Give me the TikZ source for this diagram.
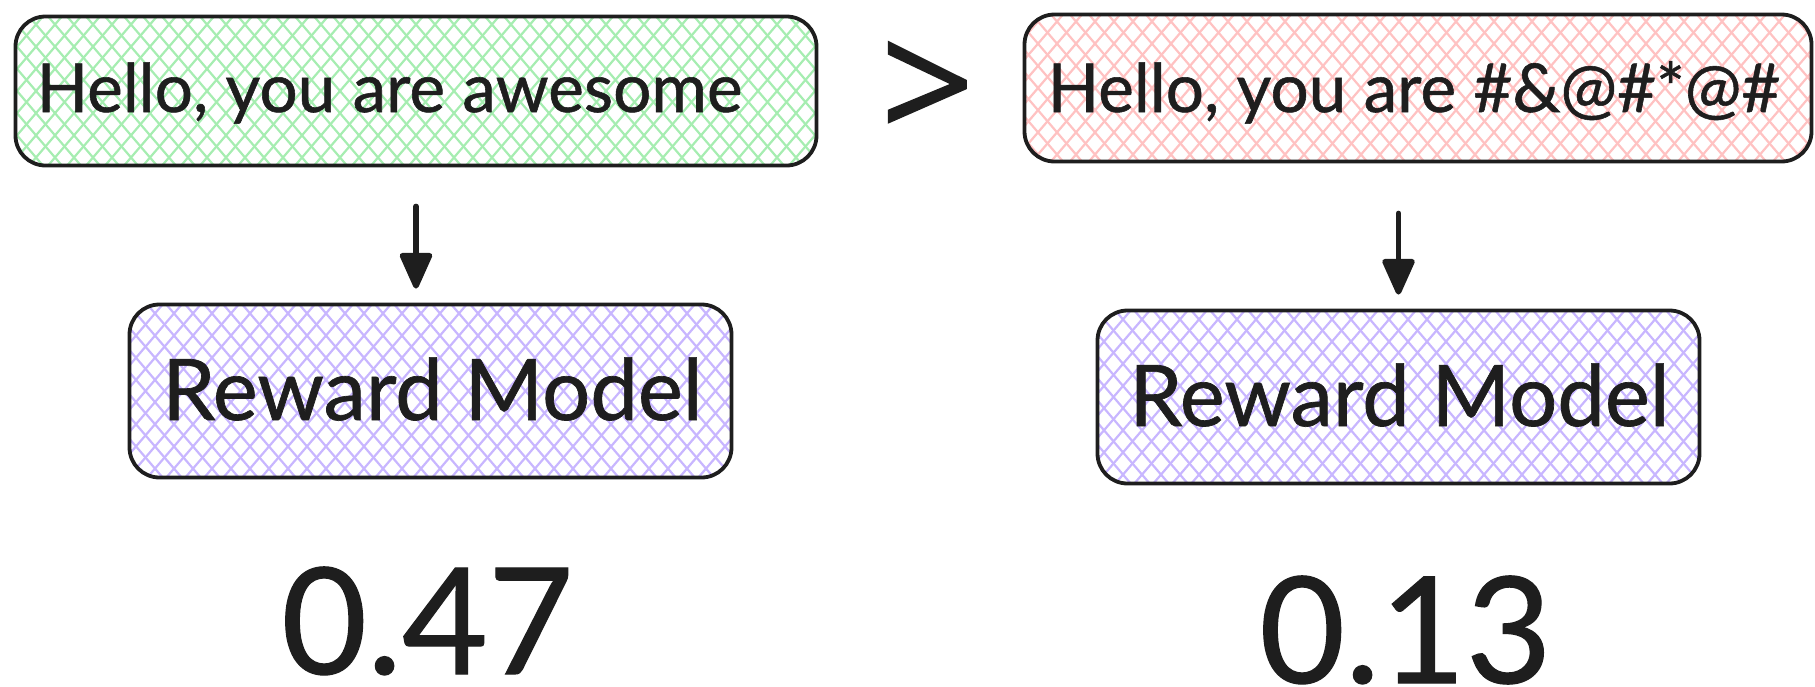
\documentclass[tikz,border=0pt]{standalone}
\usepackage{fontspec}
\setmainfont{Lato}[FakeBold=0.8]
\newfontfamily\signfont{Open Sans}[FakeBold=1]
\usetikzlibrary{arrows.meta,calc}

\definecolor{ink}{HTML}{1E1E1E}
\definecolor{hgreen}{HTML}{A6EDB1}
\definecolor{hred}{HTML}{FFC2C2}
\definecolor{hviolet}{HTML}{C8B6FF}

\tikzset{
  % cross-hatched fill, clipped to the node outline
  hatch/.style={path picture={
    \foreach \k in {-36,...,36}{
      \draw[#1, line width=2.2pt]
        ($(path picture bounding box.center)+(\k*19-120,-140)$) --
        ($(path picture bounding box.center)+(\k*19+120,140)$);
      \draw[#1, line width=2.2pt]
        ($(path picture bounding box.center)+(\k*19+120,-140)$) --
        ($(path picture bounding box.center)+(\k*19-120,140)$);
    }}},
  card/.style={draw=ink, line width=3.8pt, rounded corners=30pt,
    inner sep=0pt, hatch=#1},
  label/.style={anchor=base, text=ink},
  score/.style={label, text depth=0pt, inner sep=0pt,
    font=\fontsize{148}{148}\selectfont},
  conn/.style={draw=ink, line width=5.5pt, line cap=round,
    -{Triangle[length=40pt,width=34pt,round]}},
}

\begin{document}
\begin{tikzpicture}[x=1pt,y=-1pt]
  \useasboundingbox (0,0) rectangle (1815,686);

  % input sentences
  \node[card=hgreen, minimum width=801pt, minimum height=149pt] (g) at (416,91) {};
  \node[card=hred, minimum width=787pt, minimum height=147pt] (r) at (1418,88) {};

  \node[label, font=\fontsize{67.5}{67.5}\selectfont] (gt) at (389.5,112) {Hello, you are awesome};
  \node[label, font=\fontsize{67.5}{67.5}\selectfont] (rt) at (1414,112) {Hello, you are \#\&@\#*@\#};

  % comparison sign
  \node[text=ink, font=\signfont\fontsize{165}{165}\selectfont, inner sep=0pt] (cmp) at (927.5,92) {>};

  % reward models
  \node[card=hviolet, minimum width=602pt, minimum height=173pt] (m1) at (430.5,391) {};
  \node[card=hviolet, minimum width=602pt, minimum height=173pt] (m2) at (1398.5,397) {};

  \node[label, font=\fontsize{85}{85}\selectfont] (m1t) at (432.5,420) {Reward Model};
  \node[label, font=\fontsize{85}{85}\selectfont] (m2t) at (1399.5,426) {Reward Model};

  % connectors
  \draw[conn, shorten <=39pt, shorten >=14pt] (g.south) -- (g.south |- m1.north);
  \draw[conn, shorten <=50pt, shorten >=14pt] (m2.north |- r.south) -- (m2.north);

  % scores
  \node[score] (s1) at (427.5,674) {0.47};
  \node[score] (s2) at (1405.5,683) {0.13};
\end{tikzpicture}
\end{document}
